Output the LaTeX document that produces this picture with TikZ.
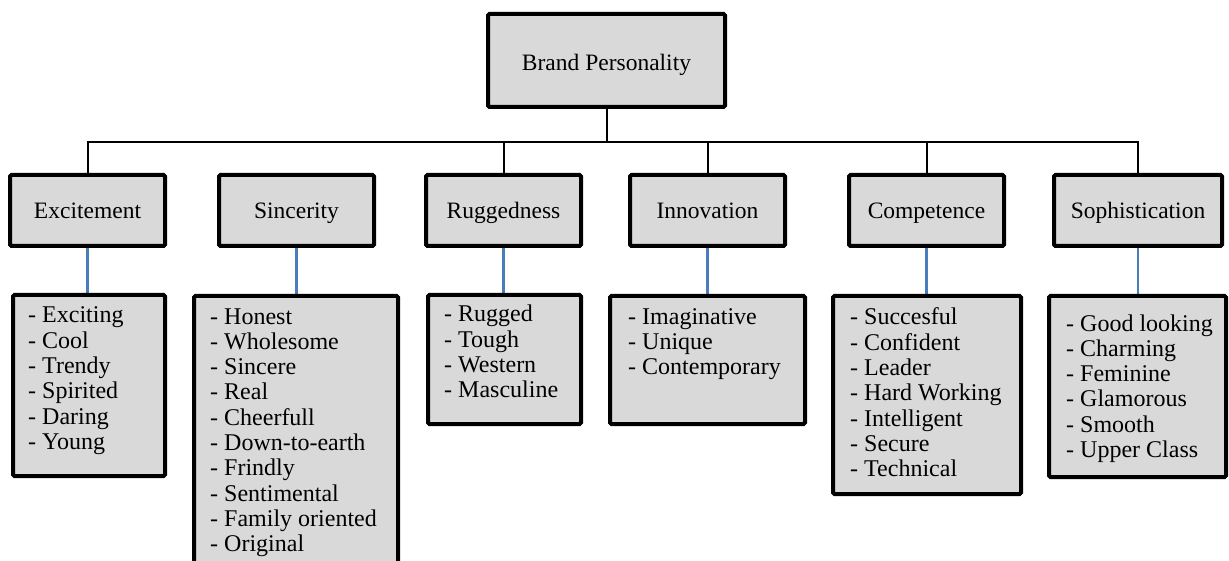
\documentclass[tikz,border=0pt]{standalone}
\usepackage{fontspec}
\setmainfont{Liberation Serif}
\usetikzlibrary{backgrounds}
\definecolor{boxfill}{HTML}{D9D9D9}
\definecolor{linkblue}{HTML}{4A7EBB}
% a left-aligned column whose baseline is that of its first row
\newcommand\traitlist[1]{\begin{tabular}[t]{@{}l@{}}#1\end{tabular}}
\begin{document}
\begin{tikzpicture}[x=1pt,y=-1pt,
  box/.style={draw=black, line width=4pt, fill=boxfill, rounded corners=1.5pt, inner sep=0pt},
  headbox/.style={box, font=\fontsize{23.5}{26}\selectfont, text height=16pt, text depth=0pt},
  catbox/.style={headbox, minimum width=155pt, minimum height=71pt},
  traits/.style={anchor=base west, inner sep=0pt, font=\fontsize{24}{25.3}\selectfont},
  tree/.style={draw=black, line width=2pt},
  link/.style={draw=linkblue, line width=2.2pt}]
\useasboundingbox (0,0) rectangle (1229,561);

% root
\node[headbox, text height=20pt, minimum width=237pt, minimum height=93pt] (brand) at (606.5,60.5) {Brand Personality};

% dimensions
\node[catbox] (exc)  at (87.5,210.5)  {Excitement};
\node[catbox] (sin)  at (296.5,210.5) {Sincerity};
\node[catbox] (rug)  at (503.5,210.5) {Ruggedness};
\node[catbox] (inn)  at (707.5,210.5) {Innovation};
\node[catbox] (comp) at (926.5,210.5) {Competence};
\node[catbox, minimum width=168pt] (soph) at (1138,210.5) {Sophistication};

% trait boxes
\node[box, minimum width=152pt, minimum height=181pt] (list-exc)  at (89,385.5)    {};
\node[box, minimum width=204pt, minimum height=270pt] (list-sin)  at (296,431)     {};
\node[box, minimum width=153pt, minimum height=129pt] (list-rug)  at (504.5,359.5) {};
\node[box, minimum width=195pt, minimum height=128pt] (list-inn)  at (707.5,360)   {};
\node[box, minimum width=188pt, minimum height=198pt] (list-comp) at (927,395)     {};
\node[box, minimum width=177pt, minimum height=181pt] (list-soph) at (1137.5,386.5){};

% trait texts
\node[traits] (txt-exc) at (28,323) {\traitlist{- Exciting\\ - Cool\\ - Trendy\\ - Spirited\\ - Daring\\ - Young}};
\node[traits] (txt-sin) at (210,324) {\traitlist{- Honest\\ - Wholesome\\ - Sincere\\ - Real\\ - Cheerfull\\ - Down-to-earth\\ - Frindly\\ - Sentimental\\ - Family oriented\\ - Original}};
\node[traits] (txt-rug) at (444,322) {\traitlist{- Rugged\\ - Tough\\ - Western\\ - Masculine}};
\node[traits] (txt-inn) at (628,324) {\traitlist{- Imaginative\\ - Unique\\ - Contemporary}};
\node[traits] (txt-comp) at (850,325) {\traitlist{- Succesful\\ - Confident\\ - Leader\\ - Hard Working\\ - Intelligent\\ - Secure\\ - Technical}};
\node[traits] (txt-soph) at (1066,331) {\traitlist{- Good looking\\ - Charming\\ - Feminine\\ - Glamorous\\ - Smooth\\ - Upper Class}};

\begin{scope}[on background layer]
  % tree connectors
  \coordinate (bus) at (0,142);
  \draw[tree] (brand.south) -- (brand.south |- bus);
  \draw[tree] (exc.north) -- (exc.north |- bus) -- (soph.north |- bus) -- (soph.north);
  \foreach \n in {rug,inn,comp} \draw[tree] (\n.north) -- (\n.north |- bus);
  % links from dimensions to their traits
  \foreach \n in {exc,sin,rug,inn,comp,soph} \draw[link] (\n.south) -- (\n.south |- list-\n.north);
\end{scope}
\end{tikzpicture}
\end{document}
